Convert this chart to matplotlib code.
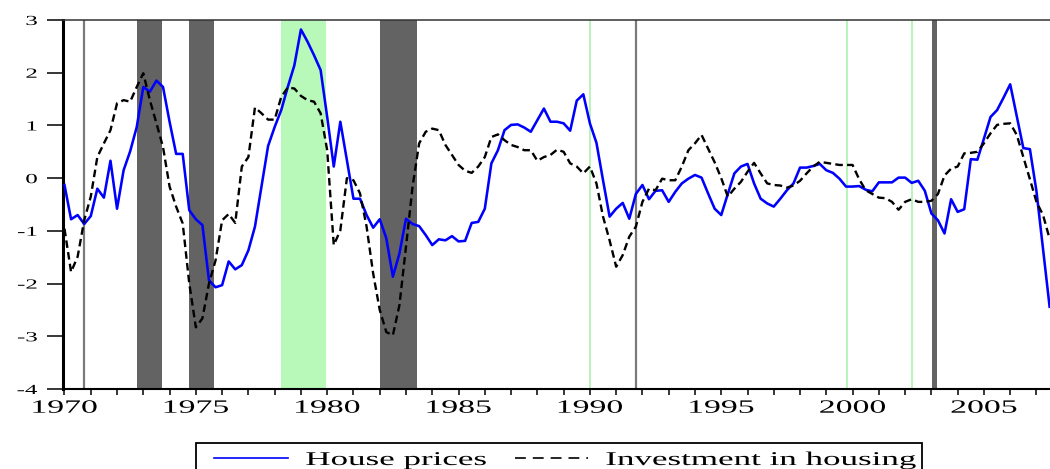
import numpy as np
import matplotlib
matplotlib.use("Agg")
import matplotlib.pyplot as plt
from matplotlib import patheffects
from matplotlib.transforms import Affine2D
from matplotlib.patches import Rectangle
from matplotlib.lines import Line2D

# quarterly series, 1970Q1 .. 2007Q3
house_prices = [
    -0.13, -0.78, -0.70, -0.87, -0.72, -0.20, -0.37, 0.33, -0.58, 0.15,
    0.51, 0.97, 1.73, 1.64, 1.85, 1.73, 1.07, 0.46, 0.46, -0.61,
    -0.78, -0.89, -1.94, -2.07, -2.03, -1.58, -1.73, -1.65, -1.37, -0.92,
    -0.16, 0.61, 0.97, 1.29, 1.73, 2.14, 2.82, 2.59, 2.33, 2.05,
    1.16, 0.22, 1.07, 0.34, -0.39, -0.39, -0.70, -0.94, -0.78, -1.14,
    -1.87, -1.43, -0.77, -0.87, -0.91, -1.08, -1.27, -1.16, -1.18, -1.10,
    -1.20, -1.19, -0.85, -0.83, -0.58, 0.28, 0.53, 0.91, 1.01, 1.02,
    0.96, 0.88, 1.10, 1.32, 1.07, 1.07, 1.04, 0.90, 1.47, 1.59,
    1.04, 0.67, -0.04, -0.73, -0.58, -0.47, -0.77, -0.30, -0.13, -0.40,
    -0.24, -0.23, -0.45, -0.26, -0.10, -0.01, 0.06, 0.01, -0.29, -0.58,
    -0.70, -0.30, 0.09, 0.22, 0.27, -0.10, -0.39, -0.48, -0.54, -0.39,
    -0.23, -0.10, 0.20, 0.20, 0.23, 0.27, 0.15, 0.10, -0.01, -0.16,
    -0.16, -0.15, -0.22, -0.25, -0.08, -0.08, -0.08, 0.01, 0.01, -0.09,
    -0.05, -0.24, -0.67, -0.80, -1.05, -0.40, -0.64, -0.59, 0.36, 0.35,
    0.75, 1.16, 1.29, 1.53, 1.78, 1.18, 0.57, 0.55, -0.25, -1.35,
    -2.44,
]
investment = [
    -0.96, -1.78, -1.49, -0.80, -0.35, 0.40, 0.66, 0.91, 1.42, 1.48,
    1.45, 1.73, 1.99, 1.48, 1.04, 0.59, -0.16, -0.54, -0.86, -2.00,
    -2.83, -2.66, -2.00, -1.56, -0.80, -0.68, -0.85, 0.22, 0.40, 1.34,
    1.23, 1.11, 1.11, 1.54, 1.72, 1.70, 1.56, 1.48, 1.45, 1.23,
    0.53, -1.27, -0.99, 0.00, -0.04, -0.29, -0.92, -1.81, -2.50, -2.92,
    -2.98, -2.41, -1.30, -0.16, 0.66, 0.88, 0.94, 0.91, 0.63, 0.44,
    0.25, 0.14, 0.10, 0.22, 0.40, 0.78, 0.83, 0.72, 0.63, 0.59,
    0.53, 0.53, 0.33, 0.40, 0.44, 0.54, 0.50, 0.28, 0.22, 0.09,
    0.22, -0.10, -0.73, -1.18, -1.68, -1.46, -1.11, -0.92, -0.45, -0.20,
    -0.23, -0.01, -0.04, -0.04, 0.22, 0.53, 0.66, 0.82, 0.56, 0.30,
    0.00, -0.35, -0.20, -0.07, 0.12, 0.29, 0.09, -0.10, -0.13, -0.14,
    -0.18, -0.14, -0.05, 0.09, 0.22, 0.31, 0.29, 0.27, 0.25, 0.25,
    0.25, -0.02, -0.23, -0.30, -0.37, -0.38, -0.45, -0.60, -0.45, -0.40,
    -0.45, -0.45, -0.43, -0.30, 0.05, 0.18, 0.22, 0.47, 0.48, 0.50,
    0.66, 0.85, 1.01, 1.03, 1.04, 0.82, 0.40, -0.02, -0.45, -0.70,
    -1.15,
]
quarters = 1970 + np.arange(len(house_prices)) / 4

dark_bands = [(1972.75, 1973.7), (1974.75, 1975.7), (1982.0, 1983.43),
              (2003.03, 2003.22)]
green_bands = [(1978.25, 1979.95)]
gray_lines = [1970.75, 1991.77]
green_lines = [1990.02, 1999.78, 2002.28]

year_ticks = [1970, 1975, 1980, 1985, 1990, 1995, 2000, 2005]
y_ticks = [-4, -3, -2, -1, 0, 1, 2, 3]


class Widen(patheffects.AbstractPathEffect):
    # the original export is stretched sideways, so stretch the glyphs too
    def __init__(self, factor=1.8, anchor=0.5):
        super().__init__()
        self.factor = factor
        self.anchor = anchor

    def draw_path(self, renderer, gc, tpath, affine, rgbFace=None):
        ext = tpath.get_extents()
        x0 = ext.x0 + self.anchor * (ext.x1 - ext.x0)
        widen = Affine2D().translate(-x0, 0).scale(self.factor, 1).translate(x0, 0)
        renderer.draw_path(gc, tpath, widen + affine, rgbFace)


plt.rcParams["font.family"] = "Liberation Serif"

fig = plt.figure(figsize=(10.5, 4.69), dpi=100)
ax = fig.add_axes([63 / 1050, 80 / 469, 987 / 1050, 369 / 469])

for a, b in dark_bands:
    ax.axvspan(a, b, color="#636363", lw=0, zorder=1)
for a, b in green_bands:
    ax.axvspan(a, b, color="#b8f8b8", lw=0, zorder=1)
for x in gray_lines:
    ax.axvline(x, color="#7a7a7a", lw=1.6, zorder=1)
for x in green_lines:
    ax.axvline(x, color="#aef2ae", lw=1.2, zorder=1)

ax.plot(quarters, house_prices, color="#0000ff", lw=1.85, zorder=3)
ax.plot(quarters, investment, color="black", lw=1.7, dashes=(3.2, 1.8), zorder=3)

ax.set_xlim(1969.943, 2007.515)
ax.set_ylim(-4, 3)

ax.set_xticks(year_ticks)
ax.set_xticklabels([str(y) for y in year_ticks])
ax.set_xticks(np.arange(1970, 2008), minor=True)
ax.set_yticks(y_ticks)
ax.set_yticklabels([str(v) for v in y_ticks])

ax.tick_params(axis="x", which="both", direction="out", length=4.2, width=1.1,
               pad=3.5, labelsize=13.5, colors="black")
ax.tick_params(axis="y", direction="out", length=11.5, width=1.1, pad=7,
               labelsize=10, colors="black")
plt.setp(ax.get_xticklabels(), path_effects=[Widen(1.8)])
plt.setp(ax.get_yticklabels(), path_effects=[Widen(1.8, anchor=1.0)])

ax.spines["right"].set_visible(False)
ax.spines["left"].set_linewidth(2.2)
ax.spines["bottom"].set_linewidth(1.5)
ax.spines["top"].set_linewidth(1.1)
ax.spines["top"].set_color("#333333")

# legend box, partly cut off by the bottom of the picture
fig.add_artist(Rectangle((196 / 1050, -0.06), 726 / 1050, 0.06 + 26 / 469,
                         transform=fig.transFigure, fill=False,
                         edgecolor="black", lw=1.3, clip_on=False))
fig.add_artist(Line2D([214 / 1050, 288 / 1050], [11 / 469, 11 / 469],
                      transform=fig.transFigure, color="#0000ff", lw=1.2))
fig.add_artist(Line2D([515 / 1050, 588 / 1050], [11 / 469, 11 / 469],
                      transform=fig.transFigure, color="black", lw=1.2,
                      dashes=(6.5, 4.2)))
fig.text(396.5 / 1050, 4 / 469, "House prices", ha="center", va="baseline",
         fontsize=14, path_effects=[Widen(1.8)])
fig.text(761.5 / 1050, 4 / 469, "Investment in housing", ha="center",
         va="baseline", fontsize=14, path_effects=[Widen(1.8)])

fig.savefig("out.png", dpi=100)
